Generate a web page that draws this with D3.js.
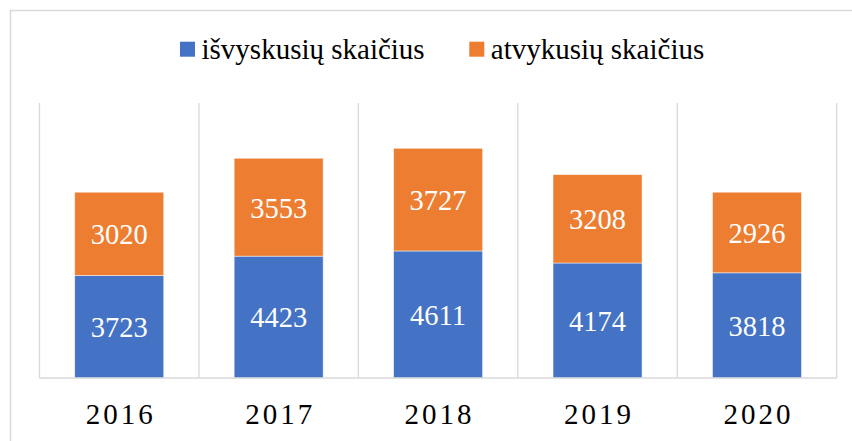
<!DOCTYPE html>
<html>
<head>
<meta charset="utf-8">
<script src="https://cdn.jsdelivr.net/npm/d3@7"></script>
<style>
  body { margin: 0; font-family: "Liberation Serif", "Times New Roman", serif; }
  #chart text { font-family: "Liberation Serif", "Times New Roman", serif; }
</style>
</head>
<body>
<svg id="chart" width="852" height="441"></svg>
<script>
// --- Data ---
const years = ["2016", "2017", "2018", "2019", "2020"];
const isvykusiu = [3723, 4423, 4611, 4174, 3818];
const atvykusiu = [3020, 3553, 3727, 3208, 2926];
const seriesNames = ["išvyskusių skaičius", "atvykusių skaičius"];
const seriesColors = ["#4472C4", "#ED7D31"];

const fontFamily = "Liberation Serif, Times New Roman, serif";

const svg = d3.select("#chart");

// outer chart border (only top and left fall inside the picture)
svg.append("path")
  .attr("d", "M10.5,441V10.5H852")
  .attr("fill", "none")
  .attr("stroke", "#d9d9d9")
  .attr("stroke-width", 1.5);

// --- Scales ---
const x = d3.scaleBand().domain(years).range([39.5, 836.7]);
const y = d3.scaleLinear().domain([0, 10000]).range([378, 102.5]);
const barW = 89;

// stacked table
const table = years.map((yr, i) => ({ year: yr, s0: isvykusiu[i], s1: atvykusiu[i] }));
const stack = d3.stack().keys(["s0", "s1"])(table);

// --- Category gridlines ---
const edges = years.map(d => x(d)).concat([x.range()[1]]);
svg.append("g").selectAll("line")
  .data(edges)
  .join("line")
  .attr("x1", d => d).attr("x2", d => d)
  .attr("y1", y(10000) + 0.5).attr("y2", y(0))
  .attr("stroke", "#d9d9d9")
  .attr("stroke-width", 1.3);

// --- Bars ---
const layers = svg.append("g").selectAll("g")
  .data(stack)
  .join("g")
  .attr("fill", (d, i) => seriesColors[i]);

layers.selectAll("rect")
  .data(d => d)
  .join("rect")
  .attr("x", d => x(d.data.year) + (x.bandwidth() - barW) / 2)
  .attr("width", barW)
  .attr("y", d => y(d[1]))
  .attr("height", d => y(d[0]) - y(d[1]))
  .attr("stroke", "rgba(255,255,255,0.6)")
  .attr("stroke-width", 0.8);

// data labels
layers.selectAll("text")
  .data(d => d)
  .join("text")
  .attr("x", d => x(d.data.year) + x.bandwidth() / 2)
  .attr("y", d => (y(d[0]) + y(d[1])) / 2 + 10.3)
  .attr("text-anchor", "middle")
  .attr("fill", "#fff")
  .attr("font-family", fontFamily)
  .attr("font-size", 28.5)
  .text(d => d[1] - d[0]);

// --- X axis ---
svg.append("line")
  .attr("x1", x.range()[0]).attr("x2", x.range()[1])
  .attr("y1", y(0)).attr("y2", y(0))
  .attr("stroke", "#d9d9d9")
  .attr("stroke-width", 1.5);

svg.append("g").selectAll("text")
  .data(years)
  .join("text")
  .attr("x", d => x(d) + x.bandwidth() / 2 + 1.5)
  .attr("y", 423.5)
  .attr("text-anchor", "middle")
  .attr("fill", "#000")
  .attr("font-family", fontFamily)
  .attr("font-size", 29)
  .attr("letter-spacing", 3)
  .text(d => d);

// --- Legend ---
const legendPos = [180, 469.3];
const legend = svg.append("g").selectAll("g")
  .data(seriesNames)
  .join("g")
  .attr("transform", (d, i) => `translate(${legendPos[i]},0)`);

legend.append("rect")
  .attr("x", 0).attr("y", 41.7)
  .attr("width", 15).attr("height", 15)
  .attr("fill", (d, i) => seriesColors[i]);

legend.append("text")
  .attr("x", 21.5)
  .attr("y", 59)
  .attr("fill", "#000")
  .attr("font-family", fontFamily)
  .attr("font-size", 29)
  .text(d => d);
</script>
</body>
</html>
